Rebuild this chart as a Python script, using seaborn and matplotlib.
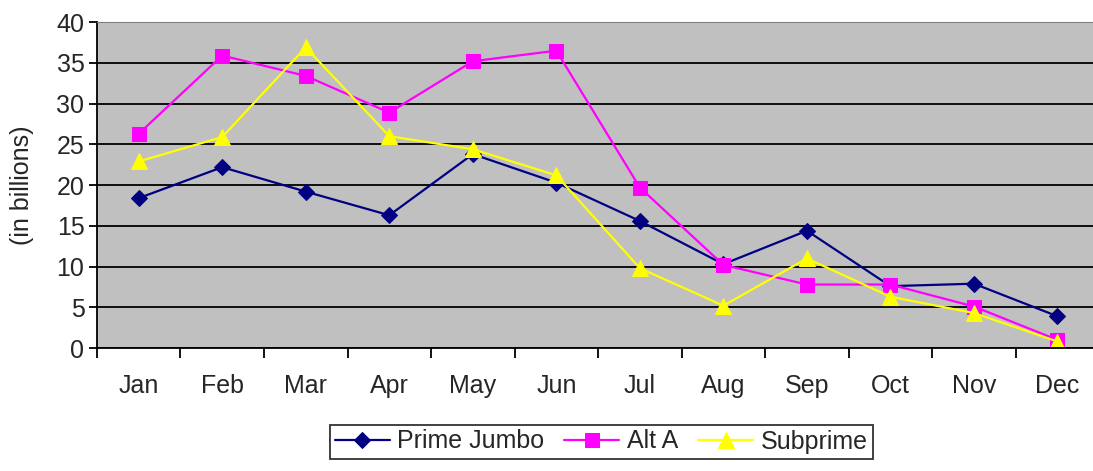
import pandas as pd
import seaborn as sns
from matplotlib import pyplot as plt

months = ['Jan', 'Feb', 'Mar', 'Apr', 'May', 'Jun', 'Jul', 'Aug', 'Sep', 'Oct', 'Nov', 'Dec']
prime_jumbo = [18.4, 22.2, 19.2, 16.3, 23.8, 20.3, 15.6, 10.3, 14.4, 7.6, 7.9, 3.9]
alt_a = [26.3, 35.9, 33.4, 28.9, 35.2, 36.5, 19.7, 10.2, 7.8, 7.8, 5.1, 1.0]
subprime = [22.9, 25.9, 36.9, 26.0, 24.4, 21.2, 9.8, 5.2, 11.0, 6.3, 4.3, 0.8]
series = ['Prime Jumbo', 'Alt A', 'Subprime']

rows = []
for name, vals in zip(series, [prime_jumbo, alt_a, subprime]):
    for i, v in enumerate(vals):
        rows.append({'pos': i, 'month': months[i], 'value': v, 'series': name})
df = pd.DataFrame(rows)

sns.set_style('white')
plt.rcParams['font.family'] = ['Liberation Sans', 'DejaVu Sans']

fig = plt.figure(figsize=(10.93, 4.71), dpi=100)
ax = fig.add_axes([0.0887, 0.261, 0.917, 0.692])

colors = {'Prime Jumbo': '#000080', 'Alt A': '#FF00FF', 'Subprime': '#FFFF00'}
markers = {'Prime Jumbo': 'D', 'Alt A': 's', 'Subprime': '^'}
sizes = {'Prime Jumbo': 8, 'Alt A': 10, 'Subprime': 11}

for name in series:
    sub = df[df['series'] == name]
    sns.lineplot(data=sub, x='pos', y='value', ax=ax, color=colors[name],
                 marker=markers[name], markersize=sizes[name],
                 markeredgecolor=colors[name], linewidth=1.6, label=name)

ax.set_facecolor('#C0C0C0')
ax.set_xlim(-0.5, 11.5)
ax.set_ylim(0, 40)
ax.set_yticks(range(0, 41, 5))
ax.grid(axis='y', color='black', linewidth=1.3)
ax.set_axisbelow(True)

fs = 18
ax.set_xticks([i - 0.5 for i in range(13)])
ax.set_xticklabels([])
ax.set_xticks(range(12), minor=True)
ax.set_xticklabels(months, minor=True)
ax.tick_params(axis='x', which='major', direction='out', length=7, width=1.3, color='black')
ax.tick_params(axis='x', which='minor', length=0, pad=19, labelsize=fs)
ax.tick_params(axis='y', direction='out', length=6, width=1.3, color='black', labelsize=fs, pad=3)
ax.tick_params(left=True, bottom=True)

for s in ['left', 'bottom']:
    ax.spines[s].set_color('black')
    ax.spines[s].set_linewidth(1.3)
ax.spines['top'].set_color('#808080')
ax.spines['right'].set_visible(False)

ax.set_xlabel('')
ax.set_ylabel('(in billions)', fontsize=fs, labelpad=16)

leg = ax.legend(loc='lower center', bbox_to_anchor=(0.55, 0.0), bbox_transform=fig.transFigure,
                ncol=3, frameon=True, fancybox=False, edgecolor='black', fontsize=fs,
                handlelength=2.2, handletextpad=0.3, columnspacing=0.8, borderpad=0.2)
leg.get_frame().set_linewidth(1.3)

plt.savefig('out.png', dpi=100)
plt.close()
